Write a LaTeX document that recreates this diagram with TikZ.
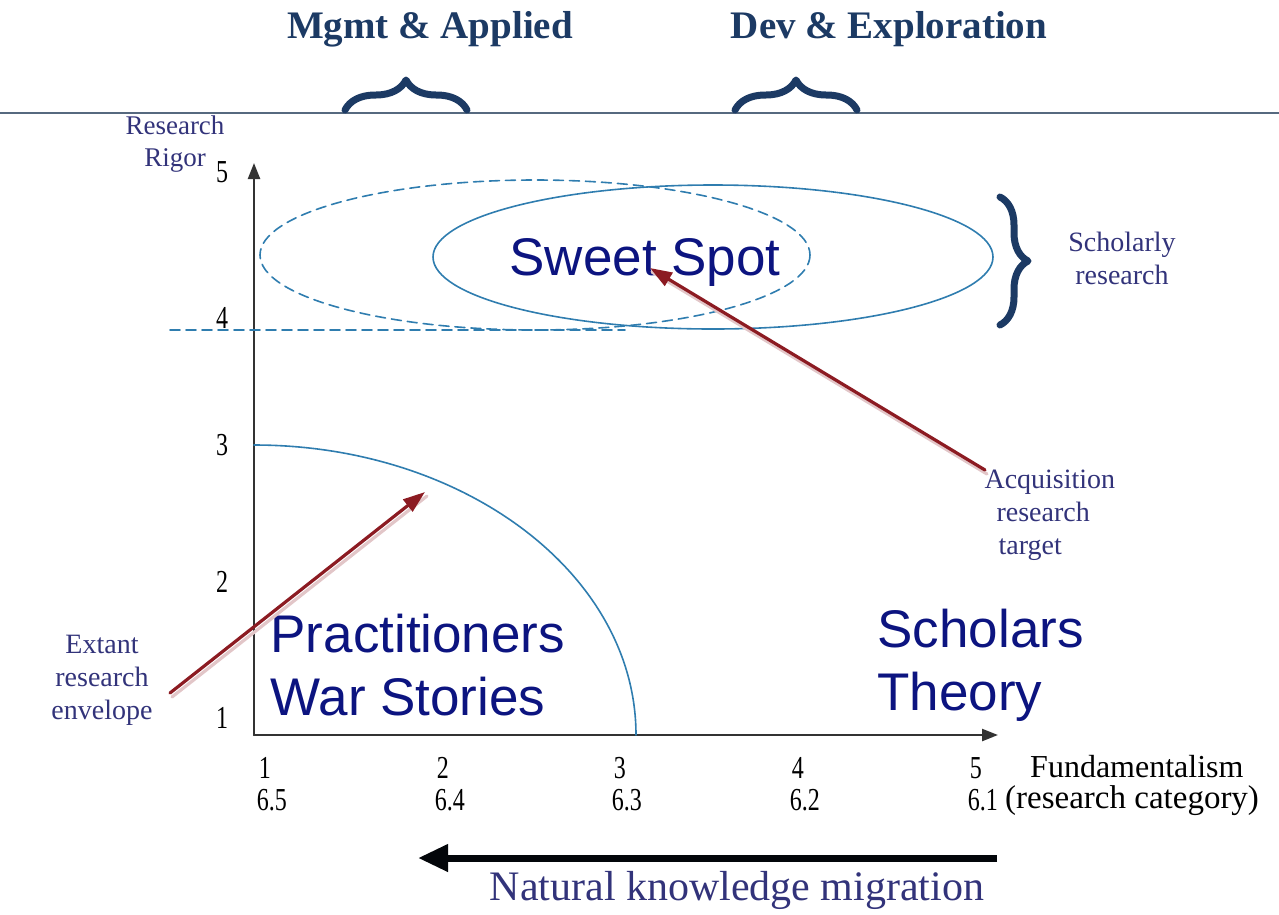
\documentclass[tikz,border=0pt]{standalone}
\usepackage{fontspec}
\setmainfont{Liberation Serif}
\setsansfont{Liberation Sans}
\usetikzlibrary{arrows.meta,positioning,decorations.pathreplacing}
\definecolor{rigblue}{HTML}{2F7DAF}
\definecolor{rignavy}{HTML}{0C1480}
\definecolor{riglabel}{HTML}{32337A}
\definecolor{righead}{HTML}{1C3A64}
\definecolor{rigred}{HTML}{8C1B22}
\definecolor{rigrule}{HTML}{56697F}

\begin{document}
\begin{tikzpicture}[x=1pt, y=-1pt, line cap=round, line join=round,
    head/.style={righead, font=\fontsize{39}{44}\bfseries\selectfont},
    curly/.style={righead, line width=7, decorate, decoration={brace, amplitude=#1}},
    tick/.style={inner sep=1pt, font=\fontsize{32}{36}\selectfont},
    digit/.style={tick, xscale=0.75},
    note/.style={riglabel, align=center, font=\fontsize{28}{33}\selectfont},
    big/.style={rignavy, align=left, font=\fontsize{53}{63}\sffamily\selectfont},
    zone/.style={rigblue, line width=1.6},
    push/.style={rigred, line width=3.2, -{Triangle[length=22, width=15]}},
    pushshade/.style={rigred!25, line width=3.2}]
  \useasboundingbox (0,0) rectangle (1279,914);
  % header + rule
  \draw[rigrule, line width=1.2] (0,113) -- (1279,113);
  \node[head] (mgmt) at (430,29) {Mgmt \& Applied};
  \node[head] (dev) at (889,29) {Dev \& Exploration};
  \draw[curly=30] (345,110) -- (467,110);
  \draw[curly=30] (735,110) -- (857,110);
  % axes
  \coordinate (origin) at (254,735);
  \coordinate (ytop) at (254,163);
  \coordinate (xend) at (998,735);
  \draw[black!80, line width=2.4, -{Triangle[length=16, width=12]}] (origin) -- (ytop);
  \draw[black!80, line width=2.4, -{Triangle[length=16, width=12]}] (origin) -- (xend);
  \node[riglabel, align=center, font=\fontsize{27}{32}\selectfont] (rigor) at (175,144) {Research\\Rigor};
  \foreach \y/\v in {172/5, 318/4, 445/3, 582/2, 718/1} { \node[digit] (ytick\v) at (222,\y) {\v}; }
  \foreach \x/\a/\b in {258/1/6.5, 436/2/6.4, 613/3/6.3, 791/4/6.2, 969/5/6.1} {
    \node[digit, anchor=west] (xtick\a) at (\x,768) {\a};
    \node[digit, anchor=west] (xcat\a) at (\x-2,800) {\b};
  }
  \node[tick, anchor=west] (fund) at (1029,767) {Fundamentalism};
  \node[tick, anchor=west, font=\fontsize{33}{37}\selectfont] (cat) at (1004,801) {(research category)};
  % zones
  \draw[zone, dashed, dash pattern=on 10pt off 6pt] (170,330) -- (625,330);
  \draw[zone, dash pattern=on 10pt off 6pt] (535,255) ellipse [x radius=275, y radius=75];
  \draw[zone] (713,257) ellipse [x radius=280, y radius=72];
  \draw[zone] (254,445) arc [start angle=270, end angle=360, x radius=382, y radius=290];
  \draw[curly=28] (1000,197) -- (1000,325);
  \node[note] (scholarly) at (1122,258) {Scholarly\\research};
  % big labels
  \node[big] (sweet) at (645,262) {Sweet Spot};
  \node[big, anchor=west] (pract) at (267,665) {Practitioners\\War Stories};
  \node[big, anchor=west] (schol) at (874,665) {Scholars\\Theory};
  % arrows
  \node[note] (extant) at (102,680) {Extant\\research\\envelope};
  \node[note, align=left, anchor=north west] (acq) at (981,466) {Acquisition\\\hspace*{12pt}research\\\hspace*{14pt}target};
  \coordinate (envtip) at (425,492);
  \coordinate (spottip) at (650,268);
  \coordinate (envfoot) at (170,693);
  \coordinate (acqfoot) at (985,470);
  \draw[pushshade] ([shift={(2,4)}]envfoot) -- ([shift={(2,4)}]envtip);
  \draw[pushshade] ([shift={(2,4)}]acqfoot) -- ([shift={(2,4)}]spottip);
  \draw[push] (envfoot) -- (envtip);
  \draw[push] (acqfoot) -- (spottip);
  % migration
  \coordinate (migstart) at (997,858);
  \coordinate (migend) at (418,858);
  \draw[black!90!righead, line width=7, line cap=butt, -{Triangle[length=30, width=26]}] (migstart) -- (migend);
  \node[riglabel, font=\fontsize{42}{48}\selectfont] (migr) at (737,890) {Natural knowledge migration};
\end{tikzpicture}
\end{document}
